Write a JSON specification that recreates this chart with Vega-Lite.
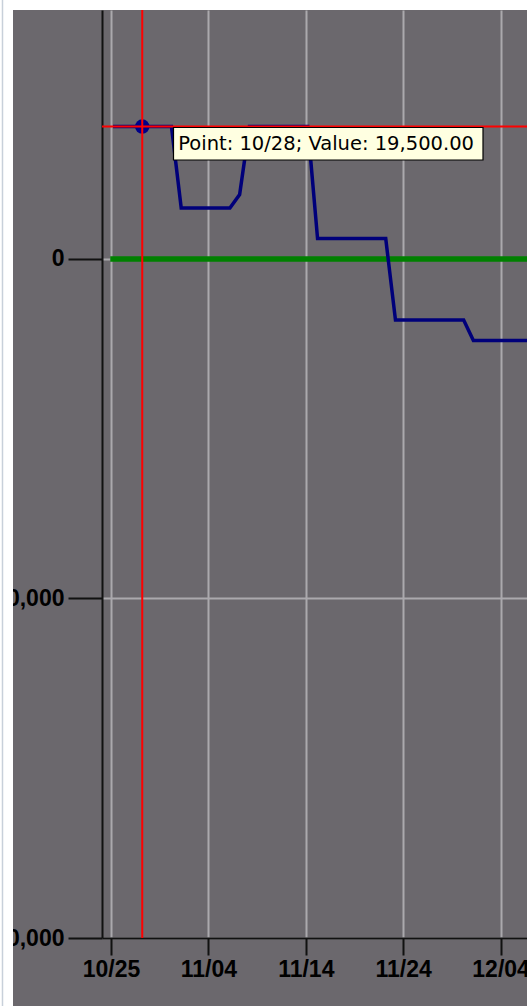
{
  "$schema": "https://vega.github.io/schema/vega-lite/v6.json",
  "width": 425,
  "height": 928,
  "autosize": {"type": "none"},
  "padding": {"left": 102, "top": 10, "right": 0, "bottom": 68},
  "background": "#6b686d",
  "config": {
    "view": {"fill": "#6b686d", "stroke": null},
    "axis": {
      "title": null,
      "domainColor": "#111111",
      "domainWidth": 2,
      "tickColor": "#111111",
      "tickWidth": 2,
      "gridColor": "#aba9ad",
      "gridWidth": 2,
      "labelColor": "#000000",
      "labelFont": "Liberation Sans",
      "labelFontWeight": "bold",
      "labelFontSize": 23,
      "labelOverlap": false,
      "labelFlush": false
    }
  },
  "datasets": {
    "balance": [
      {"date": "2012-10-25T05:00:00Z", "value": 19500},
      {"date": "2012-10-26T05:00:00Z", "value": 19500},
      {"date": "2012-10-27T05:00:00Z", "value": 19500},
      {"date": "2012-10-28T05:00:00Z", "value": 19500},
      {"date": "2012-10-29T05:00:00Z", "value": 19500},
      {"date": "2012-10-30T05:00:00Z", "value": 19500},
      {"date": "2012-10-31T05:00:00Z", "value": 19500},
      {"date": "2012-11-01T05:00:00Z", "value": 7500},
      {"date": "2012-11-02T05:00:00Z", "value": 7500},
      {"date": "2012-11-03T05:00:00Z", "value": 7500},
      {"date": "2012-11-04T05:00:00Z", "value": 7500},
      {"date": "2012-11-05T05:00:00Z", "value": 7500},
      {"date": "2012-11-06T05:00:00Z", "value": 7500},
      {"date": "2012-11-07T05:00:00Z", "value": 9500},
      {"date": "2012-11-08T05:00:00Z", "value": 19500},
      {"date": "2012-11-09T05:00:00Z", "value": 19500},
      {"date": "2012-11-10T05:00:00Z", "value": 19500},
      {"date": "2012-11-11T05:00:00Z", "value": 19500},
      {"date": "2012-11-12T05:00:00Z", "value": 19500},
      {"date": "2012-11-13T05:00:00Z", "value": 19500},
      {"date": "2012-11-14T05:00:00Z", "value": 19500},
      {"date": "2012-11-15T05:00:00Z", "value": 3000},
      {"date": "2012-11-16T05:00:00Z", "value": 3000},
      {"date": "2012-11-17T05:00:00Z", "value": 3000},
      {"date": "2012-11-18T05:00:00Z", "value": 3000},
      {"date": "2012-11-19T05:00:00Z", "value": 3000},
      {"date": "2012-11-20T05:00:00Z", "value": 3000},
      {"date": "2012-11-21T05:00:00Z", "value": 3000},
      {"date": "2012-11-22T05:00:00Z", "value": 3000},
      {"date": "2012-11-23T05:00:00Z", "value": -9000},
      {"date": "2012-11-24T05:00:00Z", "value": -9000},
      {"date": "2012-11-25T05:00:00Z", "value": -9000},
      {"date": "2012-11-26T05:00:00Z", "value": -9000},
      {"date": "2012-11-27T05:00:00Z", "value": -9000},
      {"date": "2012-11-28T05:00:00Z", "value": -9000},
      {"date": "2012-11-29T05:00:00Z", "value": -9000},
      {"date": "2012-11-30T05:00:00Z", "value": -9000},
      {"date": "2012-12-01T05:00:00Z", "value": -12000},
      {"date": "2012-12-02T05:00:00Z", "value": -12000},
      {"date": "2012-12-03T05:00:00Z", "value": -12000},
      {"date": "2012-12-04T05:00:00Z", "value": -12000},
      {"date": "2012-12-05T05:00:00Z", "value": -12000},
      {"date": "2012-12-06T05:00:00Z", "value": -12000},
      {"date": "2012-12-07T05:00:00Z", "value": -12000}
    ],
    "zero": [
      {"date": "2012-10-25T05:00:00Z", "value": 0},
      {"date": "2012-12-07T05:00:00Z", "value": 0}
    ],
    "marker": [
      {"date": "2012-10-28T05:00:00Z", "value": 19500, "label": "Point: 10/28; Value: 19,500.00"}
    ]
  },
  "layer": [
    {
      "data": {"name": "zero"},
      "mark": {"type": "line", "color": "#008000", "strokeWidth": 5.5, "strokeCap": "square", "clip": true},
      "encoding": {
        "x": {
          "field": "date",
          "type": "temporal",
          "scale": {
            "type": "utc",
            "domain": [
              {"year": 2012, "month": 10, "date": 24, "hours": 1, "minutes": 49, "utc": true},
              {"year": 2012, "month": 12, "date": 6, "hours": 17, "minutes": 7, "utc": true}
            ]
          },
          "axis": {
            "values": [
              {"year": 2012, "month": 10, "date": 25, "utc": true},
              {"year": 2012, "month": 11, "date": 4, "utc": true},
              {"year": 2012, "month": 11, "date": 14, "utc": true},
              {"year": 2012, "month": 11, "date": 24, "utc": true},
              {"year": 2012, "month": 12, "date": 4, "utc": true}
            ],
            "format": "%m/%d",
            "tickSize": 17,
            "labelPadding": 3,
            "grid": true
          }
        },
        "y": {
          "field": "value",
          "type": "quantitative",
          "scale": {"domain": [-100000, 36670], "nice": false, "zero": false},
          "axis": {
            "values": [0, -50000, -100000],
            "format": ",.0f",
            "tickSize": 34,
            "labelPadding": 4,
            "grid": true
          }
        }
      }
    },
    {
      "data": {"name": "balance"},
      "mark": {"type": "line", "color": "#00007a", "strokeWidth": 3.5, "strokeJoin": "miter", "clip": true},
      "encoding": {
        "x": {"field": "date", "type": "temporal"},
        "y": {"field": "value", "type": "quantitative"}
      }
    },
    {
      "data": {"name": "marker"},
      "mark": {"type": "point", "shape": "circle", "filled": true, "color": "#000088", "opacity": 1, "size": 210},
      "encoding": {
        "x": {"field": "date", "type": "temporal"},
        "y": {"field": "value", "type": "quantitative"}
      }
    },
    {
      "data": {"name": "marker"},
      "mark": {"type": "rule", "color": "#ff0000", "strokeWidth": 2},
      "encoding": {
        "x": {"field": "date", "type": "temporal"}
      }
    },
    {
      "data": {"name": "marker"},
      "mark": {"type": "rule", "color": "#ff0000", "strokeWidth": 2},
      "encoding": {
        "y": {"field": "value", "type": "quantitative"}
      }
    },
    {
      "data": {"name": "marker"},
      "mark": {
        "type": "point",
        "shape": "M0.3125,0.009H3.4075V0.334H0.3125Z",
        "size": 40000,
        "fill": "#ffffe1",
        "stroke": "#000000",
        "strokeWidth": 1.2,
        "opacity": 1,
        "fillOpacity": 1,
        "filled": true
      },
      "encoding": {
        "x": {"field": "date", "type": "temporal"},
        "y": {"field": "value", "type": "quantitative"}
      }
    },
    {
      "data": {"name": "marker"},
      "mark": {
        "type": "text",
        "align": "left",
        "baseline": "middle",
        "dx": 36,
        "dy": 17,
        "font": "DejaVu Sans",
        "fontSize": 19.5,
        "color": "#000000"
      },
      "encoding": {
        "x": {"field": "date", "type": "temporal"},
        "y": {"field": "value", "type": "quantitative"},
        "text": {"field": "label", "type": "nominal"}
      }
    },
    {
      "data": {"values": [{}]},
      "mark": {"type": "rect", "color": "#ffffff", "clip": false},
      "encoding": {
        "x": {"datum": {"year": 2012, "month": 10, "date": 1, "utc": true}, "type": "temporal"},
        "x2": {"datum": {"year": 2012, "month": 10, "date": 14, "hours": 22, "minutes": 30, "utc": true}},
        "y": {"datum": 80000, "type": "quantitative"},
        "y2": {"datum": -150000}
      }
    },
    {
      "data": {"values": [{}]},
      "mark": {"type": "rect", "color": "#ffffff", "clip": false},
      "encoding": {
        "x": {"datum": {"year": 2012, "month": 10, "date": 1, "utc": true}, "type": "temporal"},
        "x2": {"datum": {"year": 2013, "month": 1, "date": 15, "utc": true}},
        "y": {"datum": 80000, "type": "quantitative"},
        "y2": {"datum": 36670}
      }
    },
    {
      "data": {"values": [{}]},
      "mark": {"type": "rule", "color": "#c8d0da", "strokeWidth": 1.5, "clip": false},
      "encoding": {
        "x": {"datum": {"year": 2012, "month": 10, "date": 13, "hours": 20, "minutes": 36, "utc": true}, "type": "temporal"},
        "y": {"datum": 80000, "type": "quantitative"},
        "y2": {"datum": -150000}
      }
    }
  ]
}
